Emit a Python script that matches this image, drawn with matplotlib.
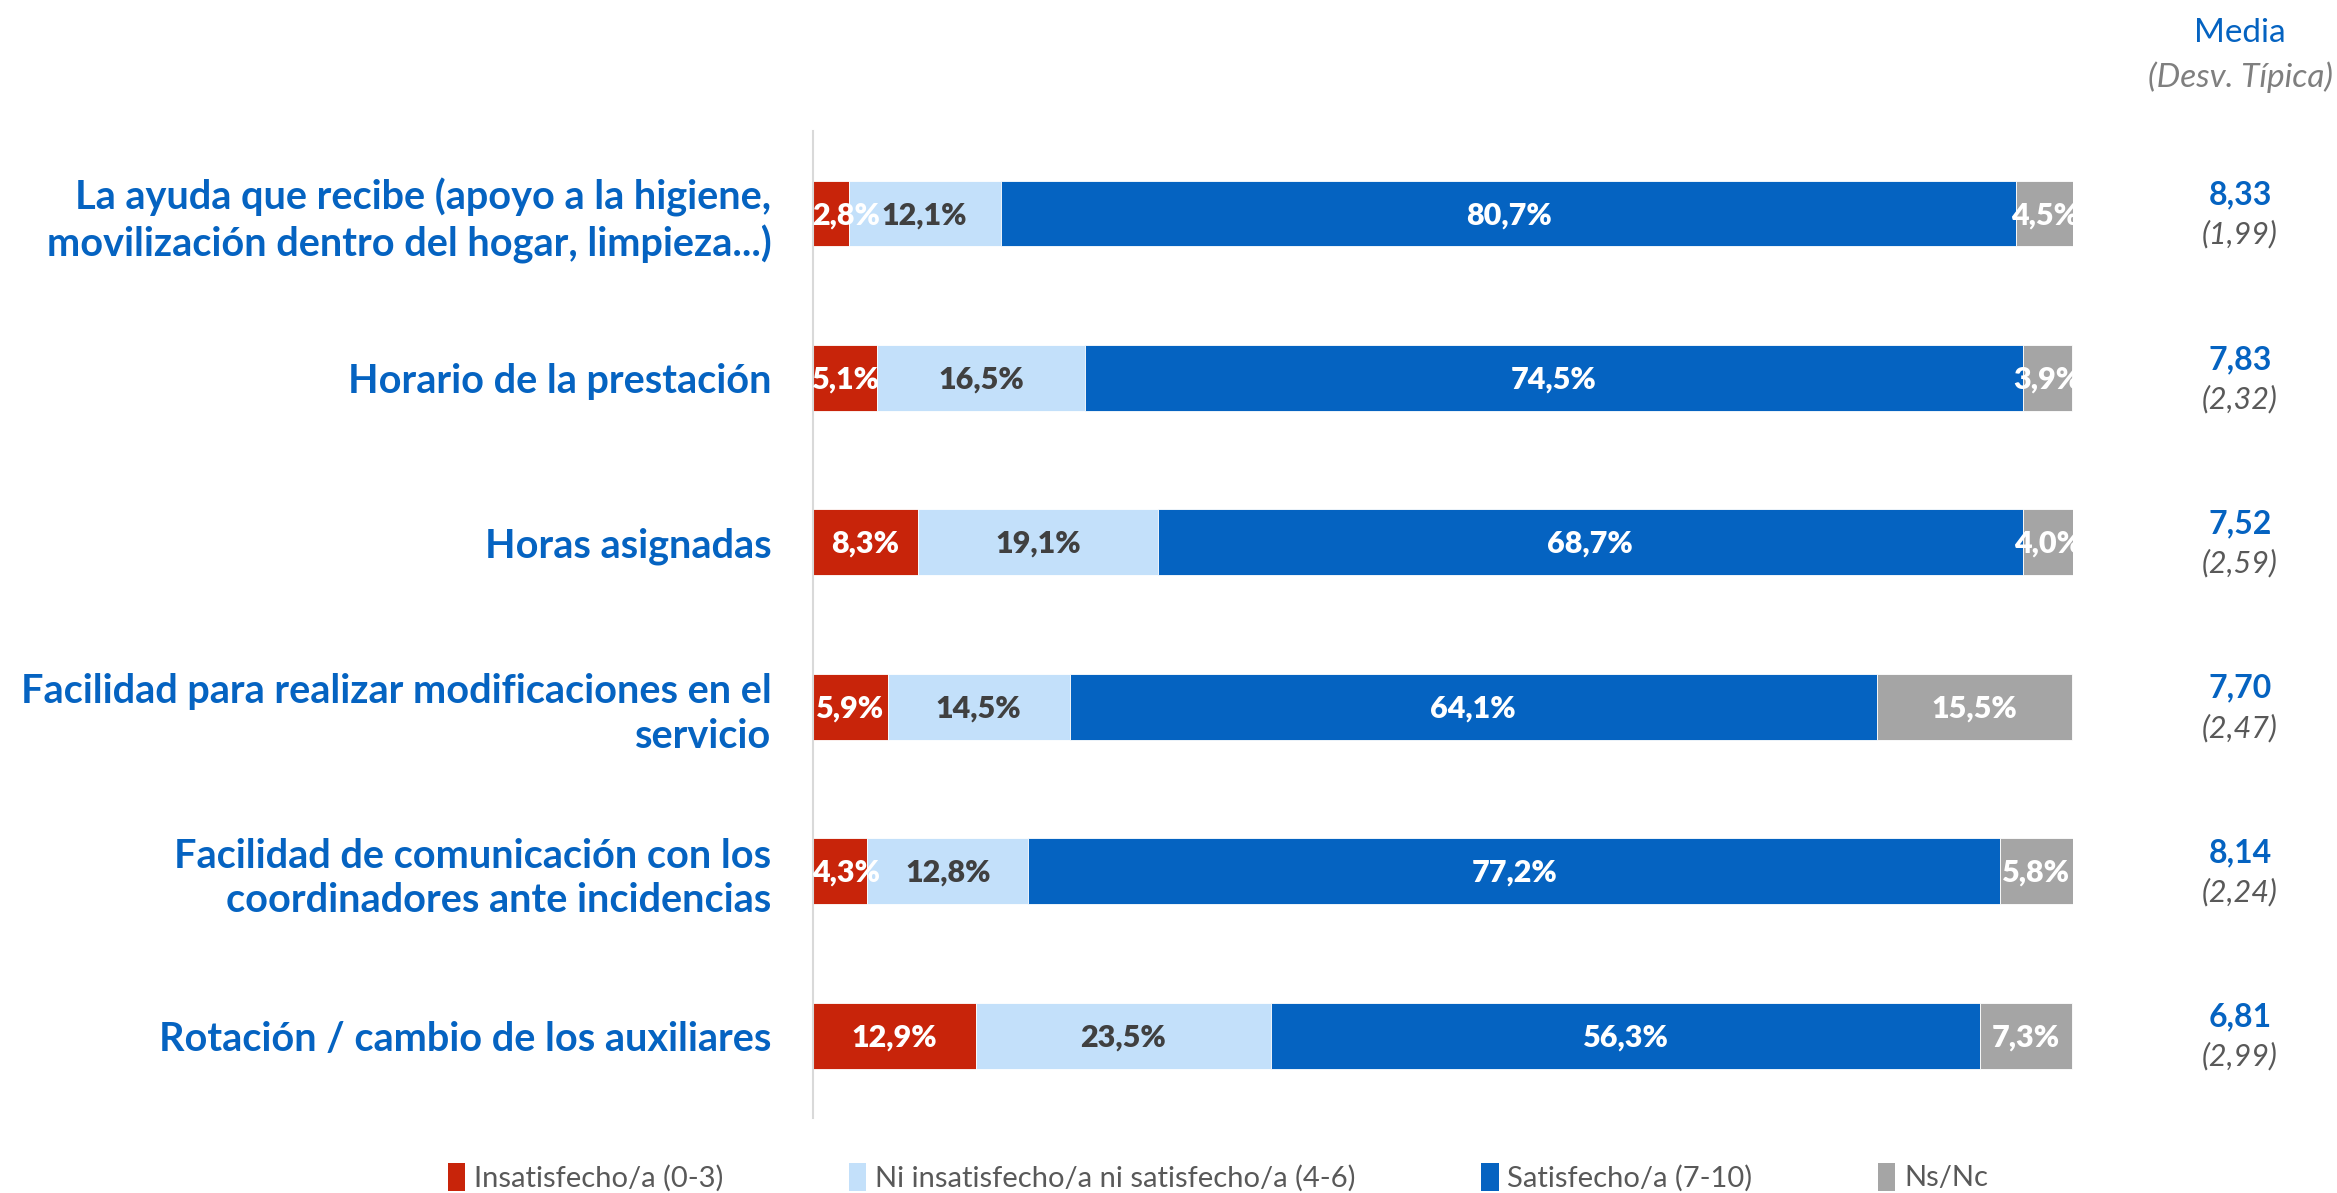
import numpy as np
import matplotlib.pyplot as plt
from matplotlib.patches import Patch

# satisfaccion con el servicio de ayuda a domicilio
categorias = [
    "La ayuda que recibe (apoyo a la higiene,\nmovilización dentro del hogar, limpieza...)",
    "Horario de la prestación",
    "Horas asignadas",
    "Facilidad para realizar modificaciones en el\nservicio",
    "Facilidad de comunicación con los\ncoordinadores ante incidencias",
    "Rotación / cambio de los auxiliares",
]
insatisfecho = [2.8, 5.1, 8.3, 5.9, 4.3, 12.9]
ni_ni = [12.1, 16.5, 19.1, 14.5, 12.8, 23.5]
satisfecho = [80.7, 74.5, 68.7, 64.1, 77.2, 56.3]
ns_nc = [4.5, 3.9, 4.0, 15.5, 5.8, 7.3]
media = [8.33, 7.83, 7.52, 7.70, 8.14, 6.81]
desv = [1.99, 2.32, 2.59, 2.47, 2.24, 2.99]

series = [
    ("Insatisfecho/a (0-3)", insatisfecho, "#C8240A", "white"),
    ("Ni insatisfecho/a ni satisfecho/a (4-6)", ni_ni, "#C3E0FA", "#404040"),
    ("Satisfecho/a (7-10)", satisfecho, "#0563C1", "white"),
    ("Ns/Nc", ns_nc, "#A5A5A5", "white"),
]

azul = "#0563C1"
fuente = ["Lato", "DejaVu Sans"]


def fmt(v, dec=1):
    return f"{v:.{dec}f}".replace(".", ",")


fig = plt.figure(figsize=(23.37, 11.93), dpi=100)
ax = fig.add_axes([0.348, 0.063, 0.539, 0.827])

y = np.arange(len(categorias))
izq = np.zeros(len(categorias))
for nombre, vals, color, ctexto in series:
    vals = np.array(vals)
    ax.barh(y, vals, left=izq, height=0.4, color=color, label=nombre,
            edgecolor="white", linewidth=0.6)
    for i, v in enumerate(vals):
        xc = izq[i] + v / 2
        if izq[i] == 0:
            xc = max(xc, 2.6)
        ax.text(xc, y[i] + 0.01, fmt(v) + "%", ha="center", va="center",
                color=ctexto, fontsize=22, fontweight="heavy", family=fuente)
    izq += vals

ax.set_xlim(0, 100.1)
ax.set_ylim(len(categorias) - 0.5, -0.5)
ax.set_xticks([])
ax.set_yticks(y)
ax.set_yticklabels(categorias, fontsize=28.5, fontweight="bold", color=azul,
                   family=fuente, linespacing=1.25, ha="right")
ax.tick_params(axis="y", length=0, pad=30)
for s in ["top", "right", "bottom"]:
    ax.spines[s].set_visible(False)
ax.spines["left"].set_color("#D9D9D9")
ax.spines["left"].set_linewidth(1.5)

# columna de medias y desviaciones
xm = 2240 / 2337
for i in range(len(categorias)):
    ym = ax.transData.transform((0, y[i]))[1]
    yf = fig.transFigure.inverted().transform((0, ym))[1]
    fig.text(xm, yf + 0.0155, fmt(media[i], 2), ha="center",
             va="center", fontsize=23, fontweight="bold", color=azul, family=fuente)
    fig.text(xm, yf - 0.0176, "(" + fmt(desv[i], 2) + ")",
             ha="center", va="center", fontsize=22, style="italic",
             color="#595959", family=fuente)

fig.text(xm, 1 - 33 / 1193, "Media", ha="center", va="center", fontsize=24,
         color=azul, family=fuente)
fig.text(xm, 1 - 77 / 1193, "(Desv. Típica)", ha="center", va="center",
         fontsize=24, style="italic", color="#7F7F7F", family=fuente)

handles = [Patch(facecolor=c, label=n) for n, _, c, _ in series]
fig.legend(handles=handles, loc="center", ncol=4,
           bbox_to_anchor=(1218 / 2337, 1 - 1177 / 1193), frameon=False,
           handlelength=0.6, handleheight=1.1, handletextpad=0.3,
           columnspacing=4.3, labelcolor="#595959",
           prop={"family": fuente, "size": 21})

fig.savefig("out.png", dpi=100)
